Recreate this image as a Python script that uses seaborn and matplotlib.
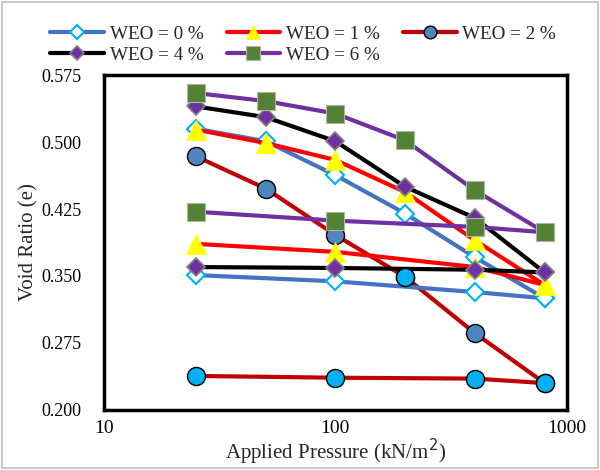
import matplotlib
matplotlib.use("Agg")
import matplotlib.pyplot as plt
import seaborn as sns
import pandas as pd
from matplotlib.ticker import FixedLocator, FixedFormatter, NullLocator
from matplotlib.patches import Rectangle

# applied pressure steps (kN/m2)
p_load = [25, 50, 100, 200, 400, 800]
p_unload = [800, 400, 100, 25]

# void ratio, loading branch
weo0_load = [0.515, 0.501, 0.463, 0.420, 0.371, 0.325]
weo1_load = [0.514, 0.499, 0.480, 0.444, 0.390, 0.340]
weo2_load = [0.484, 0.448, 0.396, 0.349, 0.286, 0.230]
weo4_load = [0.540, 0.528, 0.501, 0.450, 0.415, 0.354]
weo6_load = [0.555, 0.546, 0.532, 0.502, 0.446, 0.399]

# void ratio, unloading branch
weo0_unload = [0.325, 0.332, 0.344, 0.351]
weo1_unload = [0.340, 0.360, 0.377, 0.386]
weo2_unload = [0.230, 0.235, 0.236, 0.238]
weo4_unload = [0.354, 0.357, 0.359, 0.360]
weo6_unload = [0.399, 0.405, 0.412, 0.422]

labels = ["WEO = 0 %", "WEO = 1 %", "WEO = 2 %", "WEO = 4 %", "WEO = 6 %"]
y_ticks = [0.200, 0.275, 0.350, 0.425, 0.500, 0.575]
x_ticks = [10, 100, 1000]

load_sets = [weo0_load, weo1_load, weo2_load, weo4_load, weo6_load]
unload_sets = [weo0_unload, weo1_unload, weo2_unload, weo4_unload, weo6_unload]

# line colour, marker, size, face (loading), face (unloading), edge, edge width
styles = [
    dict(color="#4472C4", marker="D", ms=9.5, face="white", uface="white", edge="#00B0F0", mew=1.5),
    dict(color="#FF0000", marker="^", ms=14, face="#FFFF00", uface="#FFFF00", edge="#FFFF00", mew=0.5),
    dict(color="#C00000", marker="o", ms=13, face="#4F86BE", uface="#00B0F0", edge="black", mew=1.0),
    dict(color="black", marker="D", ms=9.5, face="#7030A0", uface="#7030A0", edge="#808080", mew=1.2),
    dict(color="#7030A0", marker="s", ms=13.5, face="#548235", uface="#548235", edge="#A9B8A0", mew=0.8),
]

sns.set_style("white")
plt.rcParams["font.family"] = ["Liberation Serif", "DejaVu Serif"]

fig = plt.figure(figsize=(6, 4.7), dpi=100)
ax = fig.add_axes([0.173, 0.128, 0.772, 0.712])

# loading curves first, then unloading on top
for vals, lab, st in zip(load_sets, labels, styles):
    df = pd.DataFrame({"p": p_load, "e": vals})
    sns.lineplot(data=df, x="p", y="e", ax=ax, color=st["color"], lw=3,
                 marker=st["marker"], markersize=st["ms"], markerfacecolor=st["face"],
                 markeredgecolor=st["edge"], markeredgewidth=st["mew"],
                 label=lab, sort=False)

for vals, st in zip(unload_sets, styles):
    df = pd.DataFrame({"p": p_unload, "e": vals})
    sns.lineplot(data=df, x="p", y="e", ax=ax, color=st["color"], lw=3,
                 marker=st["marker"], markersize=st["ms"], markerfacecolor=st["uface"],
                 markeredgecolor=st["edge"], markeredgewidth=st["mew"],
                 label="_nolegend_", sort=False)

# the 200 kPa point of WEO = 2 % is shown in the lighter blue
ax.plot([p_load[3]], [weo2_load[3]], "o", ms=13, mfc="#00B0F0", mec="black", mew=1.0)

ax.set_xscale("log")
ax.set_xlim(10, 1000)
ax.set_ylim(0.200, 0.575)
ax.xaxis.set_major_locator(FixedLocator(x_ticks))
ax.xaxis.set_major_formatter(FixedFormatter([str(v) for v in x_ticks]))
ax.xaxis.set_minor_locator(NullLocator())
ax.set_yticks(y_ticks)
ax.set_yticklabels([f"{v:.3f}" for v in y_ticks])

ax.tick_params(axis="both", direction="in", length=5, width=1, color="black",
               labelcolor="black")
ax.tick_params(axis="y", pad=16, labelsize=13)
ax.tick_params(axis="x", pad=7, labelsize=14)

for s in ax.spines.values():
    s.set_visible(True)
    s.set_color("black")
    s.set_linewidth(2.5)

ax.set_xlabel("Applied Pressure (kN/m$^2$)", fontsize=15, labelpad=0)
ax.set_ylabel("Void Ratio (e)", fontsize=15, labelpad=2)

ax.get_legend().remove()
handles, labs = ax.get_legend_handles_labels()
# fill the legend row by row (3 columns, 2 rows)
order = [0, 3, 1, 4, 2]
fig.legend([handles[i] for i in order], [labs[i] for i in order],
           loc="upper left", bbox_to_anchor=(0.068, 0.967), ncol=3,
           frameon=False, fontsize=13.8, handlelength=2.8, handletextpad=0.3,
           columnspacing=1.2, labelspacing=0.2, borderpad=0, markerscale=0.7)

fig.patches.append(Rectangle((0.004, 0.004), 0.992, 0.992, transform=fig.transFigure,
                             fill=False, edgecolor="#BFBFBF", lw=1.2))

fig.savefig("out.png", dpi=100)
